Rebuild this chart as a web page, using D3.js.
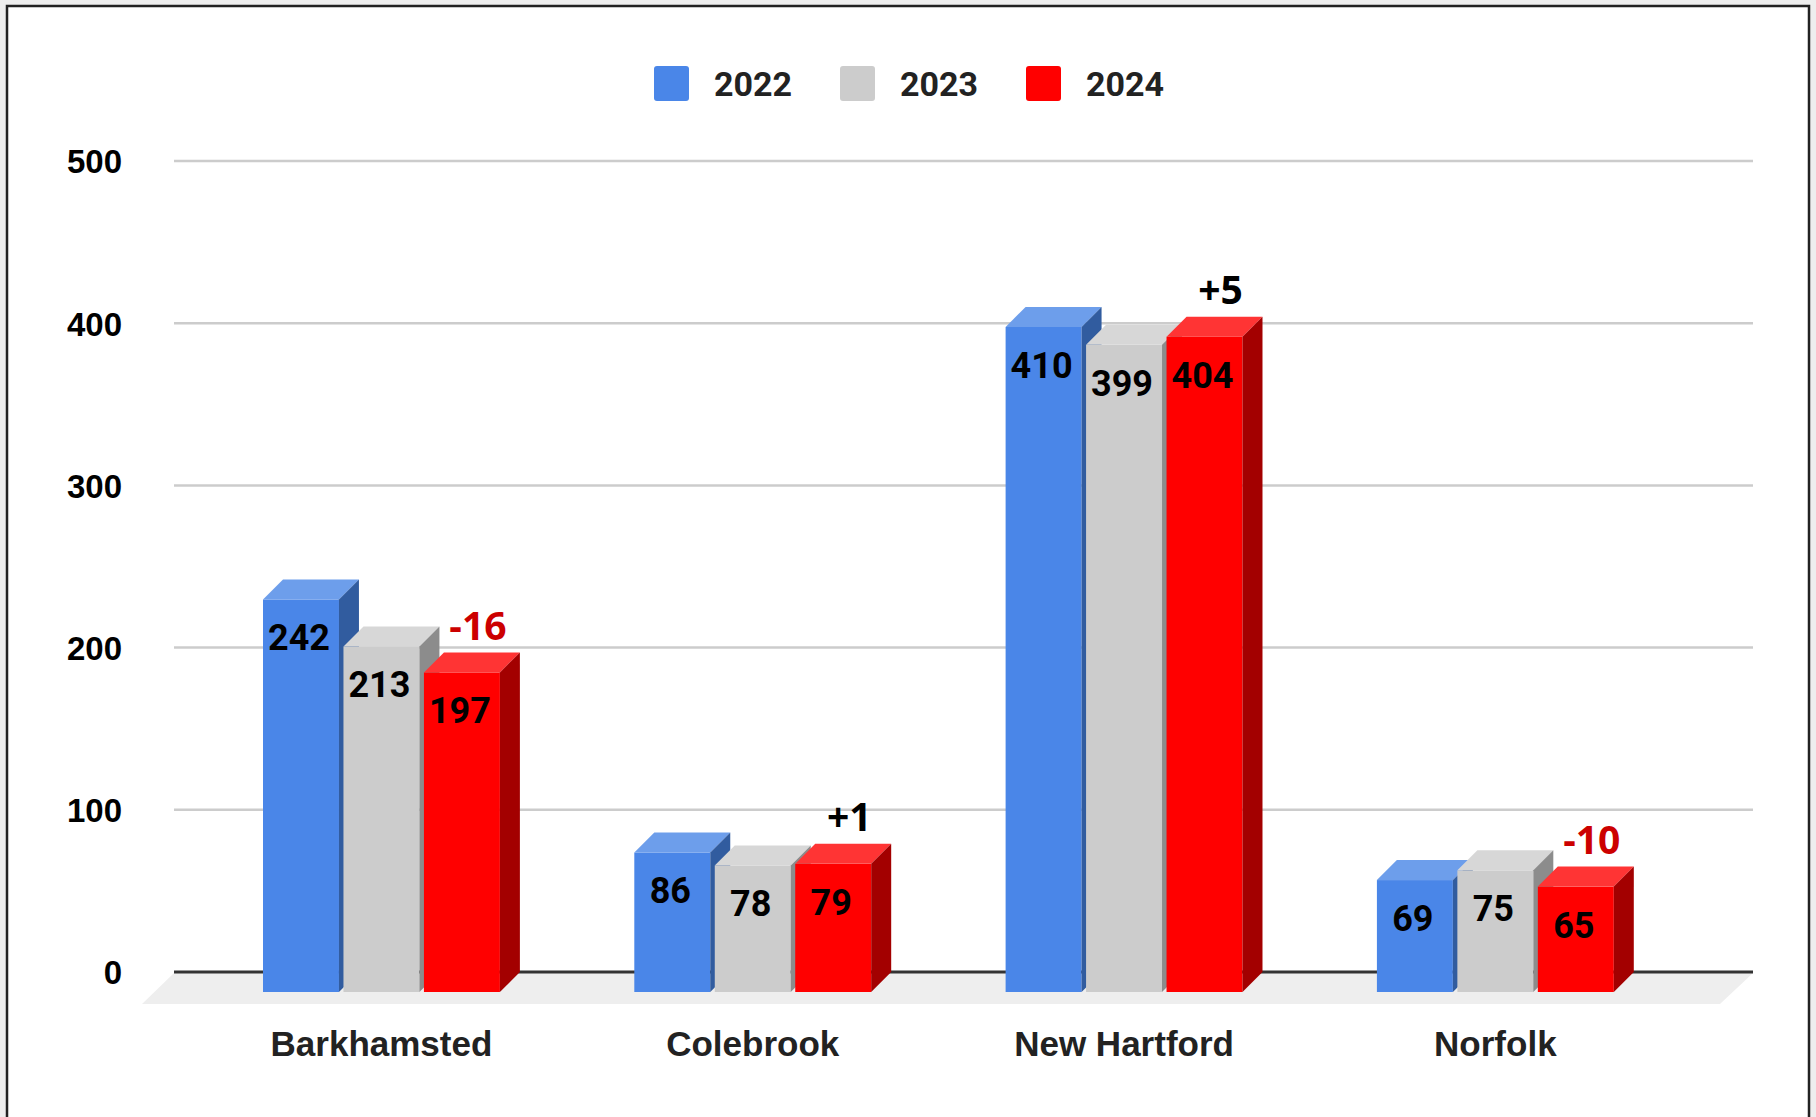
<!DOCTYPE html>
<html>
<head>
<meta charset="utf-8">
<script src="https://cdn.jsdelivr.net/npm/d3@7"></script>
<style>
  html, body { margin: 0; padding: 0; background: #eeeeee; }
  svg { display: block; }
</style>
</head>
<body>
<script>
// data
var towns = ["Barkhamsted", "Colebrook", "New Hartford", "Norfolk"];
var years = ["2022", "2023", "2024"];
var v2022 = [242, 86, 410, 69];
var v2023 = [213, 78, 399, 75];
var v2024 = [197, 79, 404, 65];
var changes = ["-16", "+1", "+5", "-10"];
var yTicks = [0, 100, 200, 300, 400, 500];

var width = 1816, height = 1117;
var depth = 20;

var front = {"2022": "#4a86e8", "2023": "#cccccc", "2024": "#ff0000"};
var top_ = {"2022": "#6d9eeb", "2023": "#d7d7d7", "2024": "#ff3434"};
var side = {"2022": "#315c9f", "2023": "#8c8c8c", "2024": "#a30000"};

var series = [v2022, v2023, v2024];
var data = [];
towns.forEach(function(t, i) {
  years.forEach(function(y, j) {
    data.push({town: t, year: y, value: series[j][i]});
  });
});

var svg = d3.select("body").append("svg")
    .attr("width", width)
    .attr("height", height);

// white card with frame
svg.append("rect")
   .attr("x", 7).attr("y", 6)
   .attr("width", 1802).attr("height", height + 20)
   .attr("fill", "#ffffff")
   .attr("stroke", "#222")
   .attr("stroke-width", 2.5);

// scales
var yScale = d3.scaleLinear()
    .domain([0, 500])
    .range([972, 161]);

var x0 = d3.scaleBand()
    .domain(towns)
    .range([195.8, 195.8 + 4 * 371.3])
    .paddingInner(0.362)
    .paddingOuter(0.181);

var x1 = d3.scaleBand()
    .domain(years)
    .range([0, x0.bandwidth()])
    .paddingInner(0.056);

var gx0 = 174, gx1 = 1753;

// floor
svg.append("path")
   .attr("d", "M" + gx0 + "," + (yScale(0) + 1) + "L" + gx1 + "," + (yScale(0) + 1) +
              "L" + (gx1 - 33) + "," + (yScale(0) + 32) + "L" + (gx0 - 32) + "," + (yScale(0) + 32) + "Z")
   .attr("fill", "#eeeeee");

// gridlines
svg.append("g")
   .selectAll("line")
   .data(yTicks.filter(function(d) { return d > 0; }))
   .enter().append("line")
     .attr("x1", gx0).attr("x2", gx1)
     .attr("y1", function(d) { return yScale(d); })
     .attr("y2", function(d) { return yScale(d); })
     .attr("stroke", "#cccccc")
     .attr("stroke-width", 2.5);

// baseline
svg.append("line")
   .attr("x1", gx0).attr("x2", gx1)
   .attr("y1", yScale(0)).attr("y2", yScale(0))
   .attr("stroke", "#333")
   .attr("stroke-width", 3);

// y axis labels
var yAxis = d3.axisLeft(yScale)
    .tickValues(yTicks)
    .tickSize(0)
    .tickPadding(0);
var yg = svg.append("g")
   .attr("transform", "translate(122,0)")
   .call(yAxis);
yg.select(".domain").remove();
yg.selectAll("text")
  .attr("font-family", "'Liberation Sans', Arial, sans-serif")
  .attr("font-weight", "bold")
  .attr("font-size", 33)
  .attr("fill", "#000")
  .attr("dy", "0.36em");

// bars
var bars = svg.append("g").selectAll("g")
  .data(data)
  .enter().append("g");

function bx(d) { return x0(d.town) + x1(d.year); }
var w = x1.bandwidth();

bars.append("rect")
  .attr("x", bx)
  .attr("y", function(d) { return yScale(d.value) + depth; })
  .attr("width", w)
  .attr("height", function(d) { return yScale(0) - yScale(d.value); })
  .attr("fill", function(d) { return front[d.year]; });

bars.append("path")
  .attr("d", function(d) {
    var x = bx(d), y = yScale(d.value);
    return "M" + x + "," + (y + depth) + "L" + (x + depth) + "," + y +
           "L" + (x + w + depth) + "," + y + "L" + (x + w) + "," + (y + depth) + "Z";
  })
  .attr("fill", function(d) { return top_[d.year]; });

bars.append("path")
  .attr("d", function(d) {
    var x = bx(d) + w, y = yScale(d.value), y0 = yScale(0);
    return "M" + x + "," + (y + depth) + "L" + (x + depth) + "," + y +
           "L" + (x + depth) + "," + y0 + "L" + x + "," + (y0 + depth) + "Z";
  })
  .attr("fill", function(d) { return side[d.year]; });

// value labels
bars.append("text")
  .attr("x", function(d) { return bx(d) + w / 2 - 2; })
  .attr("y", function(d) { return yScale(d.value) + depth + 38; })
  .attr("dy", "0.36em")
  .attr("text-anchor", "middle")
  .attr("font-family", "Roboto, sans-serif")
  .attr("font-weight", "bold")
  .attr("font-size", 36)
  .attr("fill", "#000")
  .text(function(d) { return d.value; });

// change annotations above the 2024 bars
svg.append("g").selectAll("text")
  .data(towns)
  .enter().append("text")
    .attr("x", function(d) { return x0(d) + x1("2024") + w / 2 + depth - 4; })
    .attr("y", function(d, i) { return yScale(v2024[i]) - 27; })
    .attr("dy", "0.36em")
    .attr("text-anchor", "middle")
    .attr("font-family", "'Open Sans', sans-serif")
    .attr("font-weight", "bold")
    .attr("font-size", 39)
    .attr("fill", function(d, i) { return changes[i].charAt(0) === "-" ? "#cc0000" : "#000"; })
    .text(function(d, i) { return changes[i]; });

// category labels
svg.append("g").selectAll("text")
  .data(towns)
  .enter().append("text")
    .attr("x", function(d) { return x0(d) + x0.bandwidth() / 2; })
    .attr("y", 1043)
    .attr("dy", "0.36em")
    .attr("text-anchor", "middle")
    .attr("font-family", "'Liberation Sans', Arial, sans-serif")
    .attr("font-weight", "bold")
    .attr("font-size", 35)
    .attr("fill", "#222")
    .text(function(d) { return d; });

// legend
var legend = svg.append("g").selectAll("g")
  .data(years)
  .enter().append("g")
    .attr("transform", function(d, i) { return "translate(" + (654 + i * 186) + ",66)"; });

legend.append("rect")
  .attr("width", 35).attr("height", 35)
  .attr("rx", 3)
  .attr("fill", function(d) { return front[d]; });

legend.append("text")
  .attr("x", 60).attr("y", 17.5)
  .attr("dy", "0.36em")
  .attr("font-family", "Roboto, sans-serif")
  .attr("font-weight", "bold")
  .attr("font-size", 34)
  .attr("fill", "#222")
  .text(function(d) { return d; });
</script>
</body>
</html>
